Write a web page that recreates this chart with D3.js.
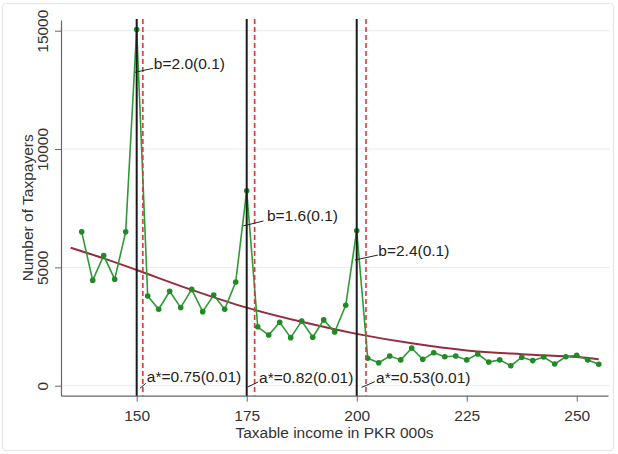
<!DOCTYPE html>
<html>
<head>
<meta charset="utf-8">
<script src="https://cdn.jsdelivr.net/npm/d3@7"></script>
<style>
  body { margin: 0; background: #fff; }
  svg { display: block; font-family: Arial, "Liberation Sans", sans-serif; }
</style>
</head>
<body>
<div id="chart"></div>
<script>
const width = 618;
const height = 454;

// income bins (PKR 000s) and taxpayer counts
const income = [137.5, 140, 142.5, 145, 147.5, 150, 152.5, 155, 157.5, 160,
  162.5, 165, 167.5, 170, 172.5, 175, 177.5, 180, 182.5, 185,
  187.5, 190, 192.5, 195, 197.5, 200, 202.5, 205, 207.5, 210,
  212.5, 215, 217.5, 220, 222.5, 225, 227.5, 230, 232.5, 235,
  237.5, 240, 242.5, 245, 247.5, 250, 252.5, 255];
const taxpayers = [6500, 4450, 5500, 4500, 6500, 15050, 3790, 3230, 3990, 3300,
  4070, 3130, 3830, 3230, 4380, 8240, 2490, 2140, 2680, 2030,
  2730, 2050, 2780, 2270, 3400, 6550, 1160, 970, 1255, 1090,
  1590, 1115, 1395, 1225, 1255, 1090, 1340, 1000, 1090, 845,
  1200, 1060, 1210, 920, 1225, 1285, 1090, 905];

// fitted counterfactual curve
const fitIncome = [135, 142.5, 150, 162.5, 175, 187.5, 200, 212.5, 225, 237.5, 250, 255];
const fitValues = [5830, 5380, 4890, 4050, 3300, 2700, 2190, 1790, 1490, 1330, 1210, 1120];

// kinks and estimated bunching edges
const kinks = [150, 175, 200];
const upperEdges = [151.4, 176.8, 202.1];

const bLabels = ["b=2.0(0.1)", "b=1.6(0.1)", "b=2.4(0.1)"];
const bFrom = [[149.6, 13240], [174.2, 6750], [199.6, 5310]];
const bTo = [[153.7, 13410], [178.8, 6960], [204.8, 5520]];
const bText = [[153.9, 13620], [179.6, 7210], [204.9, 5700]];

const aLabels = ["a*=0.75(0.01)", "a*=0.82(0.01)", "a*=0.53(0.01)"];
const aFrom = [[150.75, -110], [175.2, -55], [201.1, -70]];
const aTo = [[152.05, 100], [177.6, 155], [204.1, 170]];
const aText = [[152.3, 380], [177.8, 368], [204.4, 355]];

const xTicks = [150, 175, 200, 225, 250];
const yTicks = [0, 5000, 10000, 15000];

const svg = d3.select("#chart")
  .append("svg")
  .attr("width", width)
  .attr("height", height);

// outer graph region border
svg.append("rect")
  .attr("x", 2.5).attr("y", 3.5)
  .attr("width", 611).attr("height", 447)
  .attr("rx", 3)
  .attr("fill", "none")
  .attr("stroke", "#e4e4e4");

const xScale = d3.scaleLinear()
  .domain([132.8, 257.1])
  .range([61, 608]);

const yScale = d3.scaleLinear()
  .domain([-422, 15452])
  .range([395.7, 20]);

// gridlines
svg.append("g")
  .selectAll("line")
  .data(yTicks)
  .enter()
  .append("line")
  .attr("x1", 61)
  .attr("x2", 610)
  .attr("y1", d => yScale(d))
  .attr("y2", d => yScale(d))
  .attr("stroke", "#ececec")
  .attr("stroke-width", 1);

const xAxis = d3.axisBottom(xScale).tickValues(xTicks).tickSize(6).tickSizeOuter(0);
const yAxis = d3.axisLeft(yScale).tickValues(yTicks).tickFormat(d3.format("d"))
  .tickSize(6).tickSizeOuter(0);

const gx = svg.append("g")
  .attr("transform", `translate(0, ${yScale.range()[0]})`)
  .call(xAxis);
gx.selectAll("text").attr("dy", "1.05em");

const gy = svg.append("g")
  .attr("transform", `translate(${xScale.range()[0]}, 0)`)
  .call(yAxis);
gy.selectAll("text")
  .attr("transform", "rotate(-90)")
  .attr("x", 0)
  .attr("y", -18)
  .attr("dy", "0.35em")
  .attr("text-anchor", "middle");

[gx, gy].forEach(g => {
  g.select(".domain").attr("stroke", "#666").attr("stroke-width", 1.2);
  g.selectAll(".tick line").attr("stroke", "#666");
  g.selectAll("text")
    .attr("fill", "#333")
    .style("font-size", "15.5px")
    .style("font-family", "Arial, 'Liberation Sans', sans-serif");
});

// axis titles
svg.append("text")
  .attr("x", (xScale.range()[0] + xScale.range()[1]) / 2)
  .attr("y", 438)
  .attr("text-anchor", "middle")
  .attr("fill", "#333")
  .style("font-size", "15.5px")
  .text("Taxable income in PKR 000s");

svg.append("text")
  .attr("transform", `translate(33, ${(yScale.range()[0] + yScale.range()[1]) / 2}) rotate(-90)`)
  .attr("text-anchor", "middle")
  .attr("fill", "#333")
  .style("font-size", "15.5px")
  .text("Number of Taxpayers");

// fitted curve
const fitLine = d3.line()
  .x((d, i) => xScale(fitIncome[i]))
  .y(d => yScale(d))
  .curve(d3.curveCatmullRom);

svg.append("path")
  .datum(fitValues)
  .attr("d", fitLine)
  .attr("fill", "none")
  .attr("stroke", "#962d3e")
  .attr("stroke-width", 2);

// observed distribution
const obsLine = d3.line()
  .x((d, i) => xScale(income[i]))
  .y(d => yScale(d));

svg.append("path")
  .datum(taxpayers)
  .attr("d", obsLine)
  .attr("fill", "none")
  .attr("stroke", "#2f9a36")
  .attr("stroke-width", 1.6);

svg.selectAll(".pt")
  .data(taxpayers)
  .enter()
  .append("circle")
  .attr("class", "pt")
  .attr("cx", (d, i) => xScale(income[i]))
  .attr("cy", d => yScale(d))
  .attr("r", 2.8)
  .attr("fill", "#1f8a26");

// kink lines
svg.selectAll(".kink")
  .data(kinks)
  .enter()
  .append("line")
  .attr("class", "kink")
  .attr("x1", d => xScale(d))
  .attr("x2", d => xScale(d))
  .attr("y1", yScale.range()[1] - 1)
  .attr("y2", yScale.range()[0])
  .attr("stroke", "#1a1a1a")
  .attr("stroke-width", 2);

svg.selectAll(".edge")
  .data(upperEdges)
  .enter()
  .append("line")
  .attr("class", "edge")
  .attr("x1", d => xScale(d))
  .attr("x2", d => xScale(d))
  .attr("y1", yScale.range()[1] - 1)
  .attr("y2", yScale.range()[0])
  .attr("stroke", "#e8323c")
  .attr("stroke-width", 1.6)
  .attr("stroke-dasharray", "5,3");

// annotations
function annotate(labels, from, to, pos) {
  labels.forEach((t, i) => {
    svg.append("line")
      .attr("x1", xScale(from[i][0]))
      .attr("y1", yScale(from[i][1]))
      .attr("x2", xScale(to[i][0]))
      .attr("y2", yScale(to[i][1]))
      .attr("stroke", "#222")
      .attr("stroke-width", 1);
    svg.append("text")
      .attr("x", xScale(pos[i][0]))
      .attr("y", yScale(pos[i][1]))
      .attr("dy", "0.36em")
      .attr("fill", "#222")
      .style("font-size", "15.5px")
      .text(t);
  });
}

annotate(bLabels, bFrom, bTo, bText);
annotate(aLabels, aFrom, aTo, aText);
</script>
</body>
</html>
